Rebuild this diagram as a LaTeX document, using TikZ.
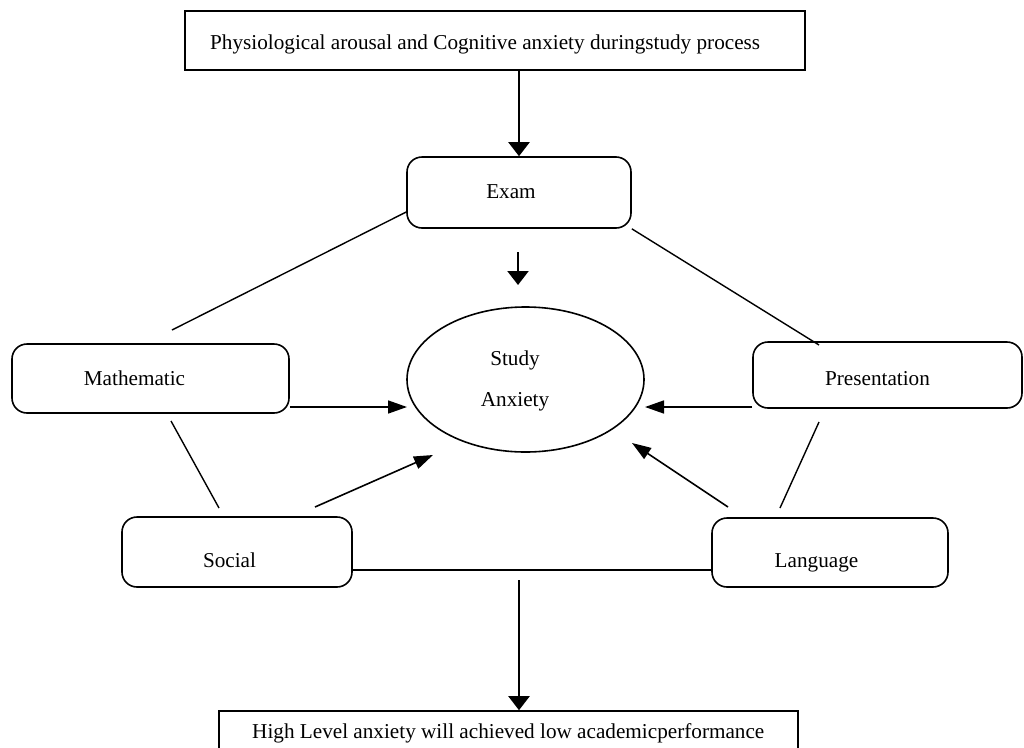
\documentclass[tikz,border=0pt]{standalone}
\usepackage{fontspec}
\setmainfont{Liberation Serif}
\usetikzlibrary{shapes.geometric,arrows.meta}
\begin{document}
\begin{tikzpicture}[x=1pt,y=-1pt,
  box/.style={draw,line width=1.6pt,rounded corners=15pt,inner sep=0pt},
  sqbox/.style={draw,line width=1.6pt,inner sep=0pt},
  oval/.style={draw,line width=1.6pt,ellipse,inner sep=0pt},
  lbl/.style={inner sep=0pt,anchor=base,font=\fontsize{21.2}{25}\selectfont},
  link/.style={line width=1.4pt},
  harr/.style={line width=1.6pt,-{Triangle[length=19pt,width=13pt]}},
  varr/.style={line width=2.2pt,-{Triangle[length=14pt,width=21pt]}},
]
\clip (0,0) rectangle (1024,747);
\fill[white] (0,0) rectangle (1024,747);

% boxes
\node[sqbox,minimum width=620pt,minimum height=59pt] (top) at (495,40.5) {};
\node[lbl,anchor=base west] (toptxt) at (210,49) {Physiological arousal and Cognitive anxiety duringstudy process};

\node[box,minimum width=224pt,minimum height=71pt] (exam) at (519,192.5) {};
\node[lbl] (examtxt) at (511,198) {Exam};

\node[oval,minimum width=237pt,minimum height=145pt] (study) at (525.5,379.5) {};
\node[lbl] (studytxt1) at (515,365) {Study};
\node[lbl] (studytxt2) at (515,406) {Anxiety};

\node[box,minimum width=277pt,minimum height=69pt] (math) at (150.5,378.5) {};
\node[lbl] (mathtxt) at (134.5,385) {Mathematic};

\node[box,minimum width=269pt,minimum height=66pt] (pres) at (887.5,375) {};
\node[lbl] (prestxt) at (877.5,385) {Presentation};

\node[box,minimum width=230pt,minimum height=70pt] (social) at (237,552) {};
\node[lbl] (socialtxt) at (229.5,567) {Social};

\node[box,minimum width=236pt,minimum height=69pt] (lang) at (830,552.5) {};
\node[lbl] (langtxt) at (816.5,567) {Language};

\node[sqbox,minimum width=579pt,minimum height=59pt] (bottom) at (508.5,740.5) {};
\node[lbl,anchor=base west] (bottomtxt) at (252,738) {High Level anxiety will achieved low academicperformance};

% free ends
\coordinate (ea) at (518,252);
\coordinate (eb) at (518,285);
\coordinate (em) at (172,330);
\coordinate (ep) at (819,345);
\coordinate (ms1) at (171,421);
\coordinate (ms2) at (219,508);
\coordinate (pl1) at (819,422);
\coordinate (pl2) at (780,508);
\coordinate (sa1) at (315,507);
\coordinate (sa2) at (433,455);
\coordinate (la1) at (728,507);
\coordinate (la2) at (632,443);
\coordinate (ma2) at (407,407);
\coordinate (pa2) at (645,407);
\coordinate (bs) at (519,580);

% connectors
\draw[varr] (exam.north |- top.south) -- (exam.north);
\draw[varr] (ea) -- (eb);
\draw[link] (exam.west |- 0,212) -- (em);
\draw[link] (exam.south east) -- (ep);
\draw[link] (ms1) -- (ms2);
\draw[link] (pl1) -- (pl2);
\draw[link] (social.east |- 0,570) -- (lang.west |- 0,570);
\draw[harr] (math.east |- ma2) -- (ma2);
\draw[harr] (pres.west |- pa2) -- (pa2);
\draw[harr] (sa1) -- (sa2);
\draw[harr] (la1) -- (la2);
\draw[varr] (bs) -- (bs |- bottom.north);
\end{tikzpicture}
\end{document}
